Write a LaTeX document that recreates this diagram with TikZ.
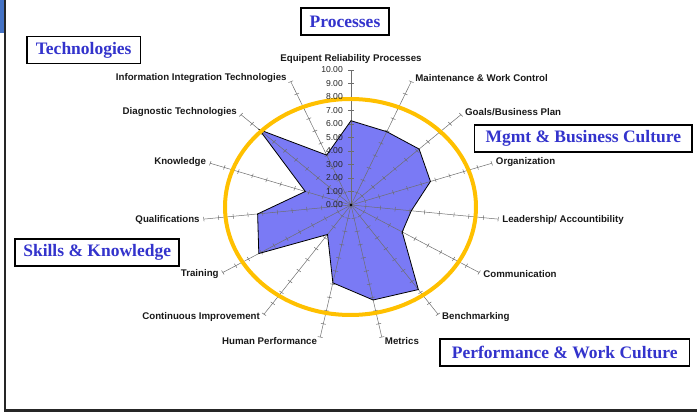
\documentclass[tikz,border=0pt]{standalone}
\usepackage{fontspec}
\setmainfont{Liberation Sans}
\newfontfamily\boxfont{Liberation Serif}

\definecolor{radarfill}{RGB}{122,122,245}
\definecolor{ringgold}{RGB}{255,192,0}
\definecolor{titleblue}{RGB}{51,51,204}
\definecolor{axisgray}{RGB}{110,110,110}
\definecolor{edgeblue}{RGB}{68,114,196}

\tikzset{
  axisline/.style={draw=axisgray, line width=0.5pt},
  radar/.style={draw=black, line width=0.8pt, line join=miter},
  spoke/.style={font=\fontsize{9.7}{11}\selectfont\bfseries, text=black!90, inner sep=0pt},
  ticklabel/.style={font=\fontsize{8.6}{10}\selectfont, text=black!85, inner sep=0pt, anchor=east},
  areabox/.style={draw=black, line width=1.8pt, fill=white,
    font=\boxfont\fontsize{17.5}{20}\selectfont\bfseries, text=titleblue,
    inner xsep=9pt, inner ysep=0pt, minimum height=27pt}
}

\begin{document}
\begin{tikzpicture}[x=1pt,y=1pt]
  \useasboundingbox (-351,-207) rectangle (346,205);
  % page edge
  \fill[edgeblue] (-351,205) rectangle (-347,172);
  \draw[black!85, line width=2.5pt] (-346.2,205) -- (-346.2,-205.5) -- (346,-205.5);

  % radar chart
  \begin{scope}[xscale=14.8,yscale=13.5]
    \foreach \i/\v in {1/6.25,2/5.95,3/6.2,4/5.65,5/4.1,6/4.0,7/7.75,8/7.2,
                       9/5.9,10/2.7,11/7.2,12/6.35,13/3.25,14/8.35,15/4.05}{
      \coordinate (ax\i) at ({114-24*\i}:10);
      \coordinate (v\i) at ({114-24*\i}:\v);
    }
    \fill[radarfill] (v1) \foreach \i in {2,...,15}{-- (v\i)} -- cycle;
    \foreach \i in {1,...,15}{
      \begin{scope}[rotate={114-24*\i}]
        \draw[axisline] (0,0) -- (10,0);
        \foreach \t in {1,...,10}
          \draw[axisline] (\t,-0.17) -- (\t,0.17);
      \end{scope}
    }
    \draw[radar] (v1) \foreach \i in {2,...,15}{-- (v\i)} -- cycle;
    \fill (0,0) circle [x radius=0.1, y radius=0.11];
  \end{scope}

  % ring
  \draw[ringgold, line width=4pt] (-0.5,-2) ellipse [x radius=125.5, y radius=108];

  % scale
  \foreach \t in {0,...,10}
    \node[ticklabel] (tk\t) at (-8,13.5*\t) {\t.00};

  % spoke labels
  \node[spoke, anchor=south] (lab1) at ([yshift=6]ax1) {Equipent Reliability Processes};
  \foreach \i/\anc/\dx/\txt in {
      2/west/4/{Maintenance \& Work Control},
      3/west/4/{Goals/Business Plan},
      4/west/4/{Organization},
      5/west/4/{Leadership/ Accountibility},
      6/west/4/{Communication},
      7/west/4/{Benchmarking},
      8/west/3/{Metrics},
      9/east/-3/{Human Performance},
      10/east/-4/{Continuous Improvement},
      11/east/-4/{Training},
      12/east/-4/{Qualifications},
      13/east/-4/{Knowledge},
      14/east/-4/{Diagnostic Technologies},
      15/east/-4/{Information Integration Technologies}}
    \node[spoke, anchor=\anc] (lab\i) at ([shift={(\dx,{4*sin(114-24*\i)})}]ax\i) {\txt};

  % area boxes
  \node[areabox] (processes) at (-6,183.3) {Processes};
  \node[areabox] (technologies) at (-267.3,155) {Technologies};
  \node[areabox, inner xsep=11pt] (mgmt) at (232.3,66.5) {Mgmt \& Business Culture};
  \node[areabox, inner xsep=8pt] (skills) at (-253.8,-47.5) {Skills \& Knowledge};
  \node[areabox, inner xsep=12pt] (performance) at (213.7,-147.5) {Performance \& Work Culture};
\end{tikzpicture}
\end{document}
